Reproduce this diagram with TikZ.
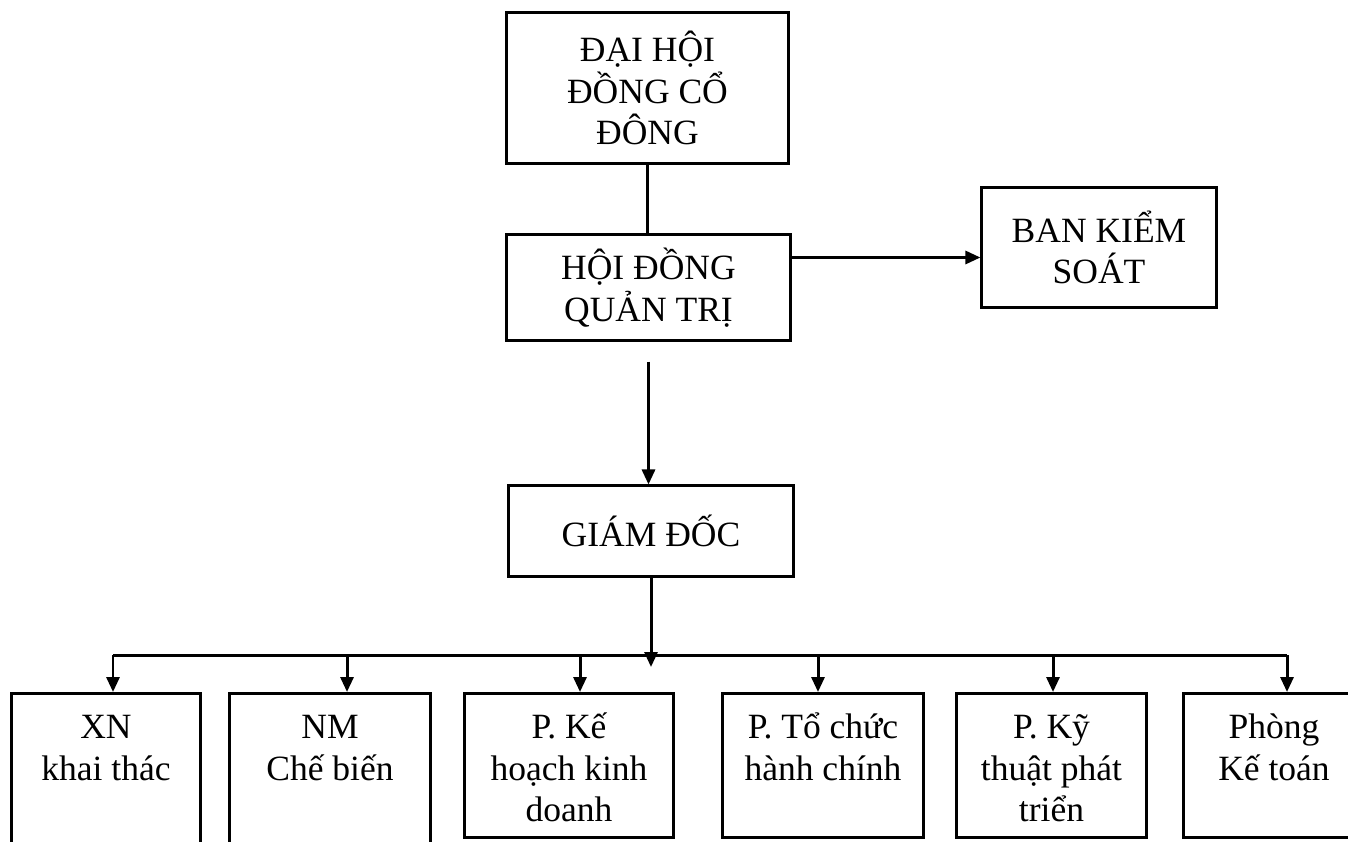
\documentclass[tikz,border=0pt]{standalone}
\usepackage{fontspec}
\setmainfont{Liberation Serif}
\usetikzlibrary{arrows.meta}

\newcommand{\boxtext}[2][1.12cm]{\parbox[t][#1][t]{1.8cm}{\centering\strut #2}}

\begin{document}
\begin{tikzpicture}[x=0.01cm, y=-0.01cm, line width=0.85pt,
    font=\fontsize{10.1}{11.8}\selectfont,
    topbox/.style={draw, align=center, inner sep=0pt},
    unitbox/.style={draw, anchor=north, inner xsep=0pt, inner ysep=0.16cm},
    arr/.style={-{Triangle[length=1.5mm, width=1.3mm]}}]
        \path[use as bounding box, clip] (0,0) rectangle (1348,841);

        \node[topbox, minimum width=2.81cm, minimum height=1.5cm] (dhcd) at (647.5,88) {ĐẠI HỘI\\ĐỒNG CỔ\\ĐÔNG};
        \node[topbox, minimum width=2.83cm, minimum height=1.05cm] (hdqt) at (648.5,287.5) {HỘI ĐỒNG\\QUẢN TRỊ};
        \node[topbox, minimum width=2.34cm, minimum height=1.19cm] (bks) at (1099,247.5) {BAN KIỂM\\SOÁT};
        \node[topbox, minimum width=2.84cm, minimum height=0.9cm] (gd) at (651,531) {GIÁM ĐỐC};

        \node[unitbox, minimum width=1.88cm] (xn) at (106,692) {\boxtext[1.7cm]{XN\\khai thác}};
        \node[unitbox, minimum width=2.00cm] (nm) at (330,692) {\boxtext[1.7cm]{NM\\Chế biến}};
        \node[unitbox, minimum width=2.08cm] (pkh) at (569,692) {\boxtext{P. Kế\\hoạch kinh\\doanh}};
        \node[unitbox, minimum width=2.00cm] (ptc) at (823,692) {\boxtext{P. Tổ chức\\hành chính}};
        \node[unitbox, minimum width=1.89cm] (pkt) at (1051.5,692) {\boxtext{P. Kỹ\\thuật phát\\triển}};
        \node[unitbox, minimum width=1.60cm] (pkto) at (1274,692) {\boxtext{Phòng\\Kế toán}};

        \coordinate (busl) at (113,655);
        \coordinate (busr) at (1287,655);
        \coordinate (tip) at (650,667);

        \draw (dhcd.south) -- (dhcd.south |- hdqt.north);
        \draw[arr] ([yshift=3mm]hdqt.east) -- ([yshift=3mm]hdqt.east -| bks.west);
        \draw[arr, shorten <=2mm] (hdqt.south) -- (hdqt.south |- gd.north);
        \draw[arr] (gd.south) -- (gd.south |- tip);

        \draw (busl) -- (busr);
        \foreach \b/\dx in {xn/0.7mm, nm/1.7mm, pkh/1.1mm, ptc/-0.5mm, pkt/0.15mm, pkto/1.3mm}
            \draw[arr] ([xshift=\dx]\b.north) ++(0,-37) -- ([xshift=\dx]\b.north);
    \end{tikzpicture}
\end{document}
